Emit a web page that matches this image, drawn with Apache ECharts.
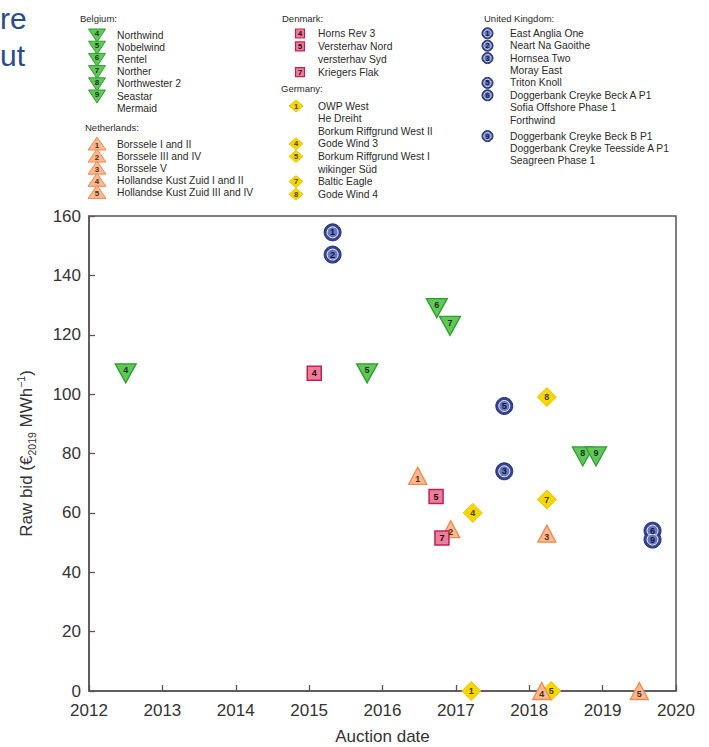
<!DOCTYPE html>
<html><head><meta charset="utf-8">
<script src="https://cdn.jsdelivr.net/npm/echarts@6/dist/echarts.min.js"></script>
<style>html,body{margin:0;padding:0;background:#fff}#c{width:709px;height:747px}</style>
</head><body><div id="c"></div>
<script>
// ---- data ----
const xMin = 2012, xMax = 2020, xStep = 1;
const yMin = 0, yMax = 160, yStep = 20;

const belgiumX = [2012.50, 2015.79, 2016.74, 2016.92, 2018.73, 2018.91];
const belgiumY = [107, 107, 129, 123, 79, 79];
const belgiumNum = ['4', '5', '6', '7', '8', '9'];

const netherlandsX = [2016.48, 2016.93, 2018.24, 2018.17, 2019.50];
const netherlandsY = [72.5, 54.5, 53, 0, 0];
const netherlandsNum = ['1', '2', '3', '4', '5'];

const denmarkX = [2015.07, 2016.73, 2016.81];
const denmarkY = [107, 65.5, 51.5];
const denmarkNum = ['4', '5', '7'];

const germanyX = [2017.21, 2017.23, 2018.30, 2018.24, 2018.24];
const germanyY = [0, 60, 0, 64.5, 99];
const germanyNum = ['1', '4', '5', '7', '8'];

const ukX = [2015.32, 2015.32, 2017.66, 2017.66, 2019.68, 2019.68];
const ukY = [154.5, 147, 74, 96, 54, 51];
const ukNum = ['1', '2', '3', '5', '6', '9'];

// legend texts
const legBelgiumNum = ['4', '5', '6', '7', '8', '9', ''];
const legBelgiumName = ['Northwind', 'Nobelwind', 'Rentel', 'Norther', 'Northwester 2', 'Seastar', 'Mermaid'];
const legNetherlandsNum = ['1', '2', '3', '4', '5'];
const legNetherlandsName = ['Borssele I and II', 'Borssele III and IV', 'Borssele V', 'Hollandse Kust Zuid I and II', 'Hollandse Kust Zuid III and IV'];
const legDenmarkNum = ['4', '5', '', '7'];
const legDenmarkName = ['Horns Rev 3', 'Versterhav Nord', 'versterhav Syd', 'Kriegers Flak'];
const legGermanyNum = ['1', '', '', '4', '5', '', '7', '8'];
const legGermanyName = ['OWP West', 'He Dreiht', 'Borkum Riffgrund West II', 'Gode Wind 3', 'Borkum Riffgrund West I', 'wikinger Süd', 'Baltic Eagle', 'Gode Wind 4'];
const legUKNum = ['1', '2', '3', '', '5', '6', '', '', '9', '', ''];
const legUKName = ['East Anglia One', 'Neart Na Gaoithe', 'Hornsea Two', 'Moray East', 'Triton Knoll', 'Doggerbank Creyke Beck A P1', 'Sofia Offshore Phase 1', 'Forthwind', 'Doggerbank Creyke Beck B P1', 'Doggerbank Creyke Teesside A P1', 'Seagreen Phase 1'];

// ---- styles ----
const FONT = 'Liberation Sans, Arial, sans-serif';
const C = {
  green: { fill: '#62c75a', stroke: '#2f9d2f', text: '#123812' },
  orange: { fill: '#f8b994', stroke: '#ef8b4d', text: '#5a2c0c' },
  red: { fill: '#e97f9c', stroke: '#c3204f', text: '#2d0010' },
  yellow: { fill: '#f6d600', stroke: '#eec300', text: '#4a3d00' },
  blue: { fill: '#35458f', stroke: '#22306f', inner: '#6a78bb', text: '#0d1650' }
};
const downTri = 'path://M0,0 L20,0 L10,18 Z';

function pts(xs, ys, ns) { return xs.map((v, i) => [v, ys[i], ns[i]]); }
function lab(color, off) {
  return { show: true, position: 'inside', formatter: p => p.data[2], color: color, fontSize: 9, fontWeight: 'bold', fontFamily: FONT, offset: off || [0, 0] };
}

const series = [
  { type: 'scatter', name: 'Germany', data: pts(germanyX, germanyY, germanyNum), symbol: 'diamond', symbolSize: 19, clip: false,
    itemStyle: { color: C.yellow.fill, borderColor: C.yellow.stroke, borderWidth: 1, opacity: 1 }, label: lab(C.yellow.text) },
  { type: 'scatter', name: 'Netherlands', data: pts(netherlandsX, netherlandsY, netherlandsNum), symbol: 'triangle', symbolSize: [18, 17], clip: false,
    itemStyle: { color: C.orange.fill, borderColor: C.orange.stroke, borderWidth: 1.3, opacity: 1 }, label: lab(C.orange.text, [0, 3]) },
  { type: 'scatter', name: 'Denmark', data: pts(denmarkX, denmarkY, denmarkNum), symbol: 'rect', symbolSize: 14, clip: false,
    itemStyle: { color: C.red.fill, borderColor: C.red.stroke, borderWidth: 1.5, opacity: 1 }, label: lab(C.red.text) },
  { type: 'scatter', name: 'Belgium', data: pts(belgiumX, belgiumY, belgiumNum), symbol: downTri, symbolSize: [21, 19], clip: false,
    itemStyle: { color: C.green.fill, borderColor: C.green.stroke, borderWidth: 1.3, opacity: 1 }, label: lab(C.green.text, [0, -3]) },
  { type: 'scatter', name: 'UK', data: pts(ukX, ukY, ukNum), symbol: 'circle', symbolSize: 17, clip: false,
    itemStyle: { color: C.blue.fill, borderColor: C.blue.stroke, borderWidth: 1, opacity: 1 } },
  { type: 'scatter', name: 'UK inner', data: pts(ukX, ukY, ukNum), symbol: 'circle', symbolSize: 11, clip: false,
    itemStyle: { color: C.blue.inner, borderColor: '#eef0fa', borderWidth: 1, opacity: 1 }, label: lab(C.blue.text) }
];

// ---- legend graphics ----
const G = [];
function txt(x, y, s, size, color, align, weight) {
  G.push({ type: 'text', x: x, y: y, silent: true, z: 10,
    style: { text: s, fill: color || '#2a2a2a', font: (weight || 'normal') + ' ' + (size || 10) + 'px ' + FONT,
      textAlign: align || 'left', textVerticalAlign: 'middle', align: align || 'left', verticalAlign: 'middle' } });
}
function marker(kind, cx, cy, n) {
  if (kind === 'green') {
    G.push({ type: 'polygon', z: 10, shape: { points: [[cx - 8.5, cy - 6], [cx + 8.5, cy - 6], [cx, cy + 7]] }, style: { fill: C.green.fill, stroke: C.green.stroke, lineWidth: 1 } });
    txt(cx, cy - 1.5, n, 8, C.green.text, 'center', 'bold');
  } else if (kind === 'orange') {
    G.push({ type: 'polygon', z: 10, shape: { points: [[cx, cy - 7], [cx - 9, cy + 6], [cx + 9, cy + 6]] }, style: { fill: C.orange.fill, stroke: C.orange.stroke, lineWidth: 1 } });
    txt(cx, cy + 1.5, n, 8, C.orange.text, 'center', 'bold');
  } else if (kind === 'red') {
    G.push({ type: 'rect', z: 10, shape: { x: cx - 4.5, y: cy - 4.5, width: 9, height: 9 }, style: { fill: C.red.fill, stroke: C.red.stroke, lineWidth: 1.2 } });
    txt(cx, cy, n, 7.5, C.red.text, 'center', 'bold');
  } else if (kind === 'yellow') {
    G.push({ type: 'polygon', z: 10, shape: { points: [[cx, cy - 6], [cx + 7, cy], [cx, cy + 6], [cx - 7, cy]] }, style: { fill: C.yellow.fill, stroke: C.yellow.stroke, lineWidth: 1 } });
    txt(cx, cy, n, 7.5, C.yellow.text, 'center', 'bold');
  } else if (kind === 'blue') {
    G.push({ type: 'circle', z: 10, shape: { cx: cx, cy: cy, r: 5.5 }, style: { fill: C.blue.fill, stroke: C.blue.stroke, lineWidth: 1 } });
    G.push({ type: 'circle', z: 10, shape: { cx: cx, cy: cy, r: 3.7 }, style: { fill: C.blue.inner, stroke: '#eef0fa', lineWidth: 0.8 } });
    txt(cx, cy, n, 7, C.blue.text, 'center', 'bold');
  }
}
function block(header, hx, hy, kind, mx, tx, nums, names, y0, step, gapAt, gap) {
  txt(hx, hy, header, 9.5, '#2a2a2a');
  names.forEach((nm, i) => {
    const y = y0 + i * step + (gapAt != null && i >= gapAt ? gap : 0);
    if (nums[i]) marker(kind, mx, y, nums[i]);
    txt(tx, y, nm, 10.3, '#2a2a2a');
  });
}
block('Belgium:', 80, 18.5, 'green', 97, 117, legBelgiumNum, legBelgiumName, 35, 12.2);
block('Netherlands:', 85, 127, 'orange', 97, 117, legNetherlandsNum, legNetherlandsName, 144, 12.1);
block('Denmark:', 282, 18.5, 'red', 300, 318, legDenmarkNum, legDenmarkName, 33.5, 12.9);
block('Germany:', 281, 88, 'yellow', 296, 318, legGermanyNum, legGermanyName, 106, 12.6);
block('United Kingdom:', 484, 18.5, 'blue', 487.5, 510, legUKNum, legUKName, 33.3, 12.4, 8, 3.6);

// partial slide text at top-left
G.push({ type: 'text', x: 0, y: 18, silent: true, style: { text: 're', fill: '#2b4a8b', font: '30px ' + FONT, textAlign: 'left', align: 'left', textVerticalAlign: 'middle', verticalAlign: 'middle' } });
G.push({ type: 'text', x: 0, y: 55, silent: true, style: { text: 'ut', fill: '#2b4a8b', font: '30px ' + FONT, textAlign: 'left', align: 'left', textVerticalAlign: 'middle', verticalAlign: 'middle' } });

const axisCommon = {
  axisLine: { show: true, lineStyle: { color: '#555', width: 1.5 } },
  axisTick: { show: true, inside: true, length: 6, lineStyle: { color: '#555', width: 1.3 } },
  splitLine: { show: false },
  axisLabel: { color: '#333', fontSize: 17, fontFamily: FONT, margin: 8, formatter: v => String(v) },
  nameLocation: 'middle',
  nameTextStyle: { color: '#333', fontSize: 17, fontFamily: FONT }
};

const option = {
  backgroundColor: '#ffffff',
  animation: false,
  grid: { left: 89, right: 33, top: 216, bottom: 56, outerBoundsMode: 'none', containLabel: false,
    show: true, borderColor: '#555', borderWidth: 1.5, backgroundColor: 'transparent' },
  xAxis: Object.assign({}, axisCommon, { type: 'value', min: xMin, max: xMax, interval: xStep, name: 'Auction date', nameGap: 37,
    axisLabel: Object.assign({}, axisCommon.axisLabel, { margin: 11 }) }),
  yAxis: Object.assign({}, axisCommon, {
    type: 'value', min: yMin, max: yMax, interval: yStep, nameGap: 52, nameRotate: 90,
    name: '{a|Raw bid (€}{s|2019}{a| MWh}{p|−1}{a|)}',
    nameTextStyle: { color: '#333', fontSize: 17, fontFamily: FONT,
      rich: {
        a: { fontSize: 17, color: '#333', fontFamily: FONT, lineHeight: 22, verticalAlign: 'middle' },
        s: { fontSize: 10.5, color: '#333', fontFamily: FONT, lineHeight: 22, verticalAlign: 'bottom' },
        p: { fontSize: 10.5, color: '#333', fontFamily: FONT, lineHeight: 22, verticalAlign: 'top' }
      } }
  }),
  series: series,
  graphic: { elements: G }
};

const chart = echarts.init(document.getElementById('c'), null, { renderer: 'svg' });
chart.setOption(option);
</script>
</body></html>
